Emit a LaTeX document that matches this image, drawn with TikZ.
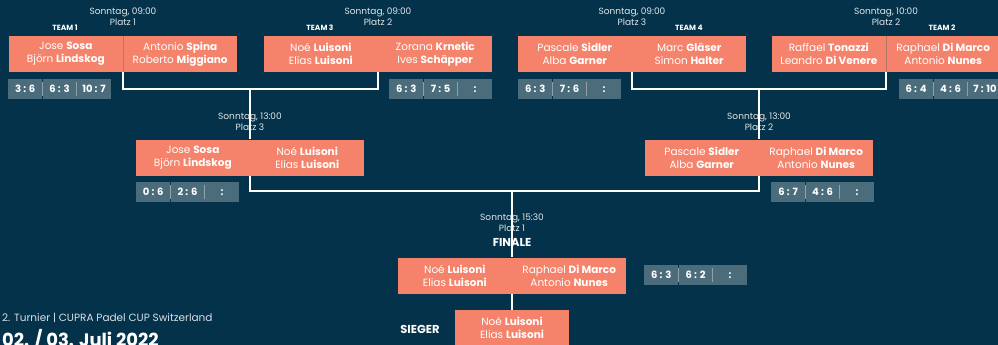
\documentclass[tikz,border=0pt]{standalone}
\usepackage{fontspec}
\setmainfont{Poppins}
\usetikzlibrary{positioning}
\definecolor{BgBlue}{HTML}{04324A}
\definecolor{Salmon}{HTML}{F5826B}
\definecolor{ScoreGrey}{HTML}{4B6C7A}
\definecolor{SepGrey}{HTML}{8FA2AB}
\definecolor{SplitLine}{HTML}{B5766A}
\tikzstyle{HalfNode}=[rectangle, fill=Salmon, text=white, minimum width=114pt, minimum height=36pt, inner sep=0pt, align=center, font=\fontsize{10.5}{13}\selectfont]
\tikzstyle{LeftHalf}=[HalfNode, anchor=east]
\tikzstyle{RightHalf}=[HalfNode, anchor=west]
\tikzstyle{ScoreCell}=[rectangle, fill=ScoreGrey, text=white, minimum width=34pt, minimum height=20pt, inner sep=0pt, font=\bfseries\fontsize{10}{11}\selectfont]
\tikzstyle{SepLine}=[SepGrey, line width=1.2pt]
\tikzstyle{TimeLabel}=[text=white!88!BgBlue, align=center, inner sep=0pt, font=\fontsize{9}{11}\selectfont]
\tikzstyle{TeamLabel}=[text=white, inner sep=0pt, font=\bfseries\fontsize{7.5}{8}\selectfont]
\tikzstyle{BigLabel}=[text=white, inner sep=0pt, font=\bfseries\fontsize{11.5}{12}\selectfont]
\tikzstyle{LinkEdge}=[white, line width=1.3pt]
\begin{document}
\begin{tikzpicture}[x=1pt, y=-1pt]
\fill[BgBlue] (0,0) rectangle (998,345);
\useasboundingbox (0,0) rectangle (998,345);

% first round
\node[LeftHalf](M1L) at (123,54) {Jose \textbf{Sosa}\\Björn \textbf{Lindskog}};
\node[RightHalf](M1R) at (123,54) {Antonio \textbf{Spina}\\Roberto \textbf{Miggiano}};
\node[LeftHalf](M2L) at (378,54) {Noé \textbf{Luisoni}\\Elias \textbf{Luisoni}};
\node[RightHalf](M2R) at (378,54) {Zorana \textbf{Krnetic}\\Ives \textbf{Schäpper}};
\node[LeftHalf](M3L) at (632,54) {Pascale \textbf{Sidler}\\Alba \textbf{Garner}};
\node[RightHalf](M3R) at (632,54) {Marc \textbf{Gläser}\\Simon \textbf{Halter}};
\node[LeftHalf](M4L) at (886,54) {Raffael \textbf{Tonazzi}\\Leandro \textbf{Di Venere}};
\node[RightHalf](M4R) at (886,54) {Raphael \textbf{Di Marco}\\Antonio \textbf{Nunes}};
\draw[SplitLine, line width=0.8pt](M1L.north east) -- (M1L.south east);
\draw[SplitLine, line width=0.8pt](M4L.north east) -- (M4L.south east);

\node[TimeLabel](T1) at (123,16.5) {Sonntag, 09:00\\Platz 1};
\node[TimeLabel](T2) at (378,16.5) {Sonntag, 09:00\\Platz 2};
\node[TimeLabel](T3) at (632,16.5) {Sonntag, 09:00\\Platz 3};
\node[TimeLabel](T4) at (886,16.5) {Sonntag, 10:00\\Platz 2};
\node[TeamLabel](Team1) at (65,28) {TEAM 1};
\node[TeamLabel](Team3) at (320,28) {TEAM 3};
\node[TeamLabel](Team4) at (689,28) {TEAM 4};
\node[TeamLabel](Team2) at (942,28) {TEAM 2};

% second round
\node[LeftHalf](R1L) at (250,157.5) {Jose \textbf{Sosa}\\Björn \textbf{Lindskog}};
\node[RightHalf](R1R) at (250,157.5) {Noé \textbf{Luisoni}\\Elias \textbf{Luisoni}};
\node[LeftHalf](R2L) at (759,157.5) {Pascale \textbf{Sidler}\\Alba \textbf{Garner}};
\node[RightHalf](R2R) at (759,157.5) {Raphael \textbf{Di Marco}\\Antonio \textbf{Nunes}};
\node[TimeLabel](T5) at (250,121.5) {Sonntag, 13:00\\Platz 3};
\node[TimeLabel](T6) at (759,121.5) {Sonntag, 13:00\\Platz 2};

% final
\node[LeftHalf](FL) at (512,275.5) {Noé \textbf{Luisoni}\\Elias \textbf{Luisoni}};
\node[RightHalf](FR) at (512,275.5) {Raphael \textbf{Di Marco}\\Antonio \textbf{Nunes}};
\node[TimeLabel](T7) at (512,222.5) {Sonntag, 15:30\\Platz 1};
\node[BigLabel](Finale) at (512,242) {FINALE};
\node[HalfNode, anchor=north](Win) at (512,310) {Noé \textbf{Luisoni}\\Elias \textbf{Luisoni}};
\node[BigLabel](Sieger) at (420,329) {SIEGER};

% scores
\foreach \n/\x/\y/\a/\b/\c in {S1/8/79/3 : 6/6 : 3/10 : 7, S2/389/79/6 : 3/7 : 5/:, S3/518/79/6 : 3/7 : 6/:, S4/899/79/6 : 4/4 : 6/7 : 10, S5/136/182/0 : 6/2 : 6/:, S6/771/182/6 : 7/4 : 6/:, S7/644/265/6 : 3/6 : 2/:}{
  \node[ScoreCell, anchor=north west](\n-a) at (\x,\y) {\a};
  \node[ScoreCell, right=0pt of \n-a](\n-b) {\b};
  \node[ScoreCell, right=0pt of \n-b](\n-c) {\c};
  \draw[SepLine]([yshift=-3pt]\n-a.north east) -- ([yshift=3pt]\n-a.south east);
  \draw[SepLine]([yshift=-3pt]\n-b.north east) -- ([yshift=3pt]\n-b.south east);
}

% connectors
\coordinate(J1) at (250,89);
\coordinate(J2) at (759,89);
\coordinate(J3) at (512,191);
\draw[LinkEdge](M1L.south east) |- (J1) -| (M2L.south east);
\draw[LinkEdge](J1) -- (R1L.north east);
\draw[LinkEdge](M3L.south east) |- (J2) -| (M4L.south east);
\draw[LinkEdge](J2) -- (R2L.north east);
\draw[LinkEdge](R1L.south east) |- (J3) -| (R2L.south east);
\draw[LinkEdge](J3) -- (FL.north east);
\draw[LinkEdge](FL.south east) -- (Win.north);

% footer
\node[anchor=west, inner sep=0pt, text=white!85!BgBlue, font=\fontsize{10.5}{12}\selectfont](Event) at (2,318) {2. Turnier | CUPRA Padel CUP Switzerland};
\node[anchor=base west, inner sep=0pt, text=white, font=\bfseries\fontsize{18}{20}\selectfont](Dates) at (2,346) {02. / 03. Juli 2022};
\end{tikzpicture}
\end{document}
